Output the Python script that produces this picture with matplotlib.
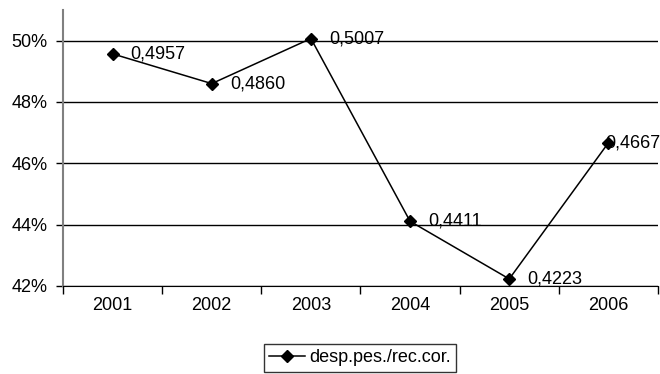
import matplotlib.pyplot as plt
from matplotlib.ticker import FixedLocator, NullFormatter, PercentFormatter

plt.rcParams['font.family'] = ['Liberation Sans', 'DejaVu Sans']

years = ['2001', '2002', '2003', '2004', '2005', '2006']
ratio = [0.4957, 0.4860, 0.5007, 0.4411, 0.4223, 0.4667]
labels = ['0,4957', '0,4860', '0,5007', '0,4411', '0,4223', '0,4667']

fs = 13

fig = plt.figure(figsize=(6.6, 3.74), dpi=100)
ax = fig.add_axes([63 / 660, 1 - 286 / 374, 595 / 660, 276 / 374])

x = range(len(years))
line, = ax.plot(x, ratio, color='black', lw=1.1, marker='D', ms=6,
                label='desp.pes./rec.cor.')

for i, (v, t) in enumerate(zip(ratio, labels)):
    dx = -2.5 if i == len(ratio) - 1 else 13  # last label overlaps its marker
    ax.annotate(t, (i, v), xytext=(dx, 0), textcoords='offset points',
                va='center', ha='left', fontsize=fs)

ax.set_xlim(-0.5, len(years) - 0.5)
ax.set_ylim(0.42, 0.51)
ax.set_yticks([0.42, 0.44, 0.46, 0.48, 0.50])
ax.yaxis.set_major_formatter(PercentFormatter(1.0, decimals=0))
ax.grid(axis='y', color='black', lw=1)

ax.xaxis.set_major_locator(FixedLocator([i - 0.5 for i in range(len(years) + 1)]))
ax.xaxis.set_major_formatter(NullFormatter())
ax.xaxis.set_minor_locator(FixedLocator(list(x)))
ax.set_xticklabels(years, minor=True)
ax.tick_params(axis='x', which='major', length=6, width=1, direction='out')
ax.tick_params(axis='x', which='minor', length=0, pad=8, labelsize=fs)
ax.tick_params(axis='y', length=5, width=1, labelsize=fs, pad=6)

for side in ('top', 'right'):
    ax.spines[side].set_visible(False)
ax.spines['left'].set_color('#808080')
ax.spines['left'].set_linewidth(1.5)
ax.spines['bottom'].set_color('black')

leg = fig.legend(handles=[line], loc='center', bbox_to_anchor=(360 / 660, 1 - 358 / 374),
                 frameon=True, fancybox=False, edgecolor='black', fontsize=fs,
                 handlelength=2.0, handletextpad=0.2, borderpad=0.3)
leg.get_frame().set_linewidth(1)

fig.savefig('out.png', dpi=100)
